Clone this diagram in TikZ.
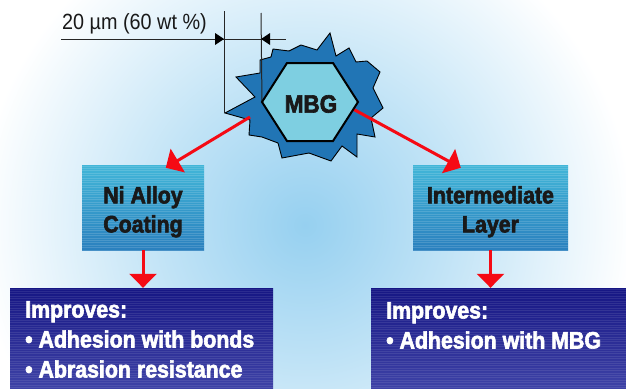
\documentclass[tikz,border=0pt]{standalone}
\usepackage{fontspec}
\setmainfont[FakeStretch=0.9, BoldFeatures={FakeBold=2.5}]{Liberation Sans}
\usetikzlibrary{arrows.meta,calc}
\definecolor{bgc}{RGB}{150,208,240}
\definecolor{gearc}{RGB}{33,117,181}
\definecolor{hexc}{RGB}{126,207,225}
\definecolor{cyTop}{RGB}{66,182,216}
\definecolor{cyBot}{RGB}{42,128,190}
\definecolor{dkTop}{RGB}{22,22,132}
\definecolor{dkBot}{RGB}{62,66,166}
\definecolor{arrred}{RGB}{245,10,20}
\pgfdeclareradialshading{bgshade}{\pgfpoint{0bp}{0bp}}{color(0bp)=(bgc); color(9bp)=(bgc!60!white); color(21bp)=(white); color(50bp)=(white)}
\tikzset{
  stripes/.style={path picture={\foreach \k in {0,...,45}{\draw[#1, line width=0.9pt] ([yshift=-\k*2.4pt-1pt]path picture bounding box.north west) -- ([yshift=-\k*2.4pt-1pt]path picture bounding box.north east);}}},
  cyanbox/.style={rectangle, inner sep=0pt, minimum height=85pt, top color=cyTop, bottom color=cyBot, stripes={white,opacity=0.14}},
  darkbox/.style={rectangle, inner sep=0pt, minimum height=100pt, top color=dkTop, bottom color=dkBot, stripes={white,opacity=0.09}},
  cyantext/.style={font=\bfseries\fontsize{23.7}{29}\selectfont, text=black!90, align=center, inner sep=0pt, anchor=north},
  darktext/.style={font=\bfseries\fontsize{23.7}{30}\selectfont, text=white, align=left, inner sep=0pt, anchor=north west},
  redarrow/.style={draw=arrred, line width=3pt, -{Triangle[width=27pt,length=14pt]}},
  dimline/.style={draw=black!85, line width=1pt},
}
\begin{document}
\begin{tikzpicture}[x=1pt,y=-1pt]
\useasboundingbox (0,0) rectangle (626,388);
\clip (0,0) rectangle (626,388);
\fill[white] (0,0) rectangle (626,388);
\shade[shading=bgshade] (305,225) circle (390);

% boxes
\node[cyanbox, minimum width=122pt] (ni) at (143,207.5) {};
\node[cyanbox, minimum width=155pt] (im) at (490.5,207.5) {};
\node[darkbox, minimum width=263pt] (dl) at (141.5,338) {};
\node[darkbox, minimum width=255pt] (dr) at (498.5,338) {};

\node[cyantext] (nitext) at (143,186) {Ni Alloy\\Coating};
\node[cyantext] (imtext) at (490.5,186) {Intermediate\\Layer};
\node[darktext] (dltext) at (25,301) {Improves:\\• Adhesion with bonds\\• Abrasion resistance};
\node[darktext] (drtext) at (386,302) {Improves:\\• Adhesion with MBG};

% gear
\draw[fill=gearc, line width=0.9pt, line join=miter]
 (225,113) -- (255,97) -- (236,77) -- (260,73) -- (260,60) -- (271,57) -- (273,49) -- (289,51)
 -- (301,45) -- (317,50) -- (330,33) -- (336,56) -- (349,48) -- (356,62) -- (367,61) -- (380,72)
 -- (373,88) -- (383,108) -- (371,118) -- (375,137) -- (357,134) -- (357,157) -- (342,146)
 -- (331,161) -- (309,153) -- (282,158) -- (278,143) -- (262,137) -- (249,135) -- (250,120) -- cycle;

% dimension
\coordinate (d0) at (61,39);
\coordinate (d1) at (286,39);
\coordinate (v1t) at (224,11);
\coordinate (v1b) at (224,113);
\coordinate (v2t) at (261,13);
\coordinate (v2b) at (262,102);
\draw[dimline] (d0) -- (d1);
\draw[dimline] (v1t) -- (v1b);
\draw[dimline] (v2t) -- (v2b);
\fill[black] (224,39) -- (215,33) -- (215,45) -- cycle;
\fill[black] (261,39) -- (270,33) -- (270,45) -- cycle;
\node[font=\fontsize{22}{26}\selectfont, anchor=base west, inner sep=0pt, text=black!90] (dimtext) at (62,29) {20 µm (60 wt \%)};

% red arrows
\coordinate (gL) at (250,117);
\coordinate (hR) at (353,109);
\draw[redarrow] (gL) -- ($(ni.north west)+(84,3)$);
\draw[redarrow] (hR) -- ($(im.north west)+(48,3)$);
\draw[redarrow] (ni.south) -- (ni.south |- dl.north);
\draw[redarrow] (im.south) -- (im.south |- dr.north);

% hexagon
\draw[fill=hexc, line width=2pt, line join=miter] (262,102) -- (287,63) -- (333,63) -- (358,102) -- (333,141) -- (287,141) -- cycle;
\node[font=\bfseries\fontsize{25}{30}\selectfont, inner sep=0pt, text=black!90] (mbg) at (311,104) {MBG};
\end{tikzpicture}
\end{document}
